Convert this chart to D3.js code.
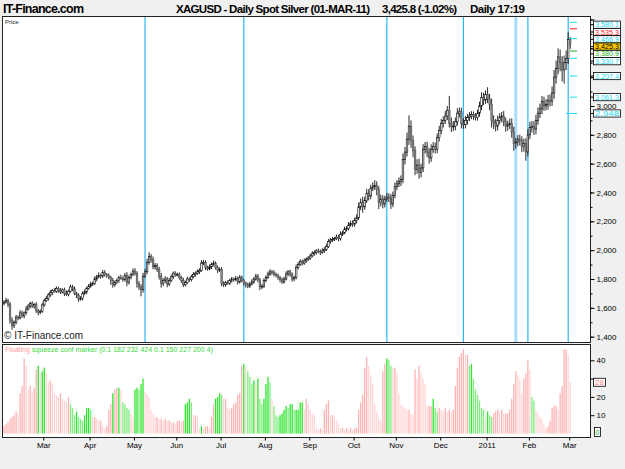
<!DOCTYPE html>
<html>
<head>
<meta charset="utf-8">
<script src="https://cdn.jsdelivr.net/npm/d3@7"></script>
<style>
  body { margin: 0; background: #f0f0f0; }
  svg { display: block; font-family: "Liberation Sans", Arial, sans-serif; }
</style>
</head>
<body>
<div id="chart"></div>
<script>
// Daily closes of spot silver (US cents), one array per month
var closeFeb10 = [1640,1652,1625,1515,1478,1498,1535,1530,1565,1545,1565,1592,1612,1630,1612,1622,1580,1568,1575,1620];
var closeMar10 = [1650,1665,1690,1705,1720,1715,1735,1720,1710,1725,1700,1695,1715,1745,1730,1700,1688,1660,1665,1700,1710,1735,1750];
var closeApr10 = [1765,1770,1800,1815,1825,1820,1845,1830,1825,1810,1790,1760,1775,1790,1810,1805,1795,1825,1775,1810,1830,1855];
var closeMay10 = [1840,1770,1745,1725,1820,1850,1915,1955,1935,1885,1895,1865,1820,1770,1790,1800,1765,1790,1815,1840,1830];
var closeJun10 = [1830,1810,1790,1760,1775,1800,1795,1815,1830,1840,1850,1860,1910,1915,1880,1870,1885,1900,1910,1880,1860,1865];
var closeJul10 = [1770,1760,1775,1770,1790,1800,1795,1805,1780,1810,1790,1770,1760,1750,1765,1780,1800,1820,1795,1745,1750,1790];
var closeAug10 = [1810,1835,1850,1845,1830,1825,1810,1795,1780,1800,1835,1850,1830,1800,1810,1880,1900,1920,1910,1925,1935,1945];
var closeSep10 = [1960,1975,1985,1995,1990,1985,1995,2005,2025,2060,2070,2075,2080,2090,2080,2110,2120,2145,2150,2175,2185,2180];
var closeOct10 = [2205,2225,2300,2330,2300,2345,2395,2375,2430,2440,2450,2420,2330,2355,2320,2355,2370,2360,2320,2380,2440];
var closeNov10 = [2460,2475,2490,2630,2680,2770,2860,2760,2690,2560,2590,2540,2570,2700,2720,2680,2640,2700,2720,2700,2780,2830];
var closeDec10 = [2880,2900,2930,2970,2880,2860,2860,2890,2950,2960,2880,2870,2900,2920,2930,2940,2930,2920,2950,3000,3060,3040,3080];
var closeJan11 = [3050,3010,2900,2880,2860,2900,2920,2930,2890,2860,2870,2880,2820,2740,2750,2770,2760,2720,2740,2680,2800];
var closeFeb11 = [2850,2860,2840,2900,2950,2980,3030,3000,3010,3040,3030,3090,3200,3260,3340,3300,3250,3300,3330,3461];
var closeMar11 = [3425.8];
var firstOpen = 1632;

// upper / lower shadow length of each day's candle (cents)
var wickHi = [12,18,10,15,20,14,16,12,18,15,10,20,14,12,16,10,18,12,14,16,
  14,18,12,20,10,16,14,12,18,10,15,20,12,16,14,18,10,12,16,14,18,12,15,
  16,12,18,14,20,12,18,16,10,14,12,18,16,14,12,20,14,18,22,16,14,18,
  20,14,16,18,22,20,25,30,18,20,16,14,18,22,16,20,14,18,16,12,14,
  14,16,12,18,14,16,12,14,18,12,16,14,20,18,14,12,16,14,18,12,14,16,
  18,14,12,16,12,14,10,16,12,18,14,10,12,16,14,18,12,16,14,12,16,14,
  14,16,18,12,16,14,12,10,14,16,18,12,14,16,12,20,18,16,14,18,16,14,
  16,18,14,12,16,14,18,16,20,18,14,16,12,18,16,20,14,18,16,20,18,22,
  20,24,30,28,40,26,30,28,24,30,35,28,24,30,26,22,28,24,30,26,30,
  26,30,28,40,35,45,75,40,35,30,40,45,30,35,30,32,28,34,30,26,30,32,
  30,28,34,30,100,40,36,30,34,30,28,34,30,26,28,24,22,20,24,30,35,32,28,
  50,34,40,36,30,34,30,28,36,30,28,32,34,36,30,28,32,30,34,36,40,
  40,36,34,38,40,36,40,34,38,36,40,45,50,55,60,50,45,50,55,50,
  18];
var wickLo = [15,10,20,25,30,18,12,15,10,14,18,12,10,16,12,18,14,20,12,10,
  12,10,16,14,18,10,12,15,14,10,18,12,16,10,14,12,20,18,10,14,12,16,10,
  10,14,12,16,10,18,12,14,16,12,30,20,14,12,16,10,14,12,25,14,12,10,
  16,30,20,45,20,14,18,16,22,18,20,16,24,30,20,18,22,14,12,16,14,
  12,14,18,16,12,10,14,12,10,14,12,16,10,14,18,12,10,16,12,14,18,12,
  20,16,14,10,12,16,14,10,18,12,14,16,20,14,12,10,14,12,18,22,14,12,
  12,10,14,16,12,14,16,18,14,12,10,16,14,18,16,12,14,10,16,12,14,10,
  12,10,14,16,12,18,10,14,12,10,16,14,12,10,18,14,12,10,16,14,12,18,
  18,20,16,22,40,20,18,30,22,20,24,40,45,26,30,24,20,26,35,22,20,
  24,22,30,26,35,30,40,50,45,40,30,45,35,28,30,34,40,28,24,30,28,26,
  26,30,24,28,30,40,34,28,26,30,36,28,26,30,24,22,26,20,22,24,30,34,26,
  30,40,50,40,36,30,28,34,30,38,32,30,40,50,36,30,34,40,36,60,30,
  30,34,40,36,30,34,38,34,30,36,34,30,40,45,40,60,80,95,50,40,
  30];

// squeeze indicator, one value per day, and its state (p = off / pink, g = on / green)
var squeeze = [4,5,6,8,9,10,12,11,22,26, 41,37,24,26,23,25,35,37,33,34,
  36,33,28,29,27,22,21,20,22,19, 18,17,20,16,14,10,12,9,8,7,
  10,14,14,13,9,9,8,7,7,4, 3,4,13,16,22,24,25,25,24,17,
  16,14,13,11,9,24,25,24,27,30, 23,22,20,13,11,9,9,8,8,7,
  8,7,7,6,6,5,7,7,6,7, 16,17,19,17,10,10,9,3,4,3,
  4,4,3,9,16,19,20,22,21,19, 19,14,13,14,16,17,21,22,37,38,
  36,34,31,27,29,27,30,19,16,19, 27,31,28,19,15,10,9,10,11,13,
  15,14,16,16,13,13,13,17,17,13, 19,16,13,11,10,3,2,3,2,13,
  16,18,10,10,9,7,5,3,3,2, 3,2,3,2,3,3,13,17,21,36,
  42,37,32,27,16,12,9,7,34,38, 41,40,37,36,36,33,22,16,15,14,
  13,13,11,10,35,30,37,33,30,27, 15,15,15,19,14,12,14,13,12,14,
  12,13,12,13,26,36,42,44,46,43, 43,37,38,30,24,21,18,14,13,9,
  12,10,9,11,12,13,12,13,11,11, 11,13,19,27,34,32,30,22,30,33,
  40,35,20,18,13,11,9,8,5,3, 4,7,14,15,15,13,22,26,46,46,
  43,28];
var squeezeState = ("pppppppppp" + "pppppppgpg" + "gppppppppp" + "pppggggggg" + "ggggpppppp" +
  "ppppgppgpg" + "gggppggggg" + "pppppppppp" + "pppppppppp" + "ggggppppgp" +
  "pppppggggp" + "pppppppppg" + "pggggpgggg" + "gggpgggggg" + "gggggggggp" +
  "pppppppppp" + "pppppppppp" + "pppppppppp" + "pppppppppp" + "gggppppppp" +
  "pppppppppp" + "pppgggpppp" + "pppppppppp" + "pggggggggp" + "gggppppppp" +
  "pppppppppp" + "ppggpppppp" + "pppppppppp" + "pp").split("");

// days (index) carrying a vertical marker line
var markerDays = [70, 119, 190, 228, 254, 260, 280];

// price levels shown in boxes on the right axis
var levelValues = [3580.1, 3535.3, 3466.9, 3425.3, 3380.9, 3330.7, 3207.4, 3061.3, 2948.0];
var levelLabels = ["3,580.1", "3,535.3", "3,466.9", "3,425.3", "3,380.9", "3,330.7", "3,207.4", "3,061.3", "2,948"];
var levelColors = ["#19d8f0", "#ff2020", "#19d8f0", "#000000", "#20b020", "#19d8f0", "#19d8f0", "#19d8f0", "#19d8f0"];
var priceTicks = [1400, 1600, 1800, 2000, 2200, 2400, 2600, 2800, 3000, 3200, 3400, 3600];
var priceLabelMax = 3000; // labels above this sit under the level boxes
var squeezeTicks = [10, 20, 30, 40];
var squeezeLabelled = [10, 20, 40];

var closes = [].concat(closeFeb10, closeMar10, closeApr10, closeMay10, closeJun10, closeJul10,
  closeAug10, closeSep10, closeOct10, closeNov10, closeDec10, closeJan11, closeFeb11, closeMar11);

// trading days: weekdays 1 Feb 2010 .. 1 Mar 2011
var days = d3.timeDay.range(new Date(2010, 1, 1), new Date(2011, 2, 2)).filter(d => d.getDay() % 6 !== 0);

if (closes.length !== days.length || wickHi.length !== days.length || wickLo.length !== days.length ||
    squeeze.length !== days.length || squeezeState.length !== days.length) {
  throw new Error("length mismatch " + [days.length, closes.length, wickHi.length, wickLo.length, squeeze.length, squeezeState.length]);
}

var bars = closes.map(function(c, i) {
  var o = i === 0 ? firstOpen : closes[i - 1];
  return { i: i, open: o, close: c, high: Math.max(o, c) + wickHi[i], low: Math.min(o, c) - wickLo[i] };
});

var W = 625, H = 469;
var panelL = 2.5, panelR = 590.5;
var mainTop = 16.5, mainBot = 342.5, lowTop = 344.5, lowBot = 437.5;
var axisFont = "Liberation Sans, Arial, sans-serif";

var xScale = d3.scaleLinear().domain([0, days.length - 1]).range([4, 570.2]);
var yScale = d3.scaleLinear().domain([1363, 3617]).range([342, 17]);
var y2Scale = d3.scaleLinear().domain([-1.9, 48.9]).range([437, 344]);

var svg = d3.select("#chart").append("svg")
    .attr("width", W)
    .attr("height", H)
    .attr("viewBox", [0, 0, W, H]);

svg.append("rect").attr("width", W).attr("height", H).attr("fill", "#f0f0f0");

// header
svg.append("text").attr("x", 3).attr("y", 13).attr("font-size", 12.5).attr("font-weight", "bold")
    .attr("textLength", 81).text("IT-Finance.com");
svg.append("text").attr("x", 176).attr("y", 13).attr("font-size", 11.5).attr("font-weight", "bold")
    .attr("textLength", 194).text("XAGUSD - Daily Spot Silver (01-MAR-11)");
svg.append("text").attr("x", 382).attr("y", 13).attr("font-size", 11.5).attr("font-weight", "bold")
    .attr("textLength", 75).text("3,425.8 (-1.02%)");
svg.append("text").attr("x", 470).attr("y", 13).attr("font-size", 11.5).attr("font-weight", "bold")
    .attr("textLength", 55).text("Daily  17:19");

// panels
svg.append("rect").attr("x", panelL).attr("y", mainTop).attr("width", panelR - panelL).attr("height", mainBot - mainTop)
    .attr("fill", "#fff").attr("stroke", "#222");
svg.append("rect").attr("x", panelL).attr("y", lowTop).attr("width", panelR - panelL).attr("height", lowBot - lowTop)
    .attr("fill", "#fff").attr("stroke", "#222");

var defs = svg.append("defs");
defs.append("clipPath").attr("id", "clipMain").append("rect")
    .attr("x", panelL + 0.5).attr("y", mainTop + 0.5).attr("width", panelR - panelL - 1).attr("height", mainBot - mainTop - 1);

// marker lines
svg.append("g").selectAll("line").data(markerDays).enter().append("line")
    .attr("x1", d => xScale(d)).attr("x2", d => xScale(d))
    .attr("y1", mainTop + 0.5).attr("y2", mainBot - 0.5)
    .attr("stroke", (d, k) => k === 4 ? "#a8dcff" : "#2bb5f5")
    .attr("stroke-width", (d, k) => k === 4 ? 3 : 1.2);

svg.append("text").attr("x", 5).attr("y", 24).attr("font-size", 6).attr("fill", "#222").text("Price");
svg.append("text").attr("x", 4).attr("y", 339).attr("font-size", 10).attr("fill", "#222").text("\u00a9 IT-Finance.com");

// candles
var cg = svg.append("g").attr("clip-path", "url(#clipMain)");
cg.selectAll("line.wick").data(bars).enter().append("line")
    .attr("class", "wick")
    .attr("x1", d => xScale(d.i)).attr("x2", d => xScale(d.i))
    .attr("y1", d => yScale(d.high)).attr("y2", d => yScale(d.low))
    .attr("stroke", "#111").attr("stroke-width", 0.9);
cg.selectAll("rect.body").data(bars).enter().append("rect")
    .attr("class", "body")
    .attr("x", d => xScale(d.i) - 0.8)
    .attr("width", 1.6)
    .attr("y", d => yScale(Math.max(d.open, d.close)))
    .attr("height", d => Math.max(0.8, Math.abs(yScale(d.open) - yScale(d.close))))
    .attr("fill", d => d.close >= d.open ? "#fff" : "#8c8c8c")
    .attr("stroke", d => d.close >= d.open ? "#000" : "#555")
    .attr("stroke-width", 0.6);

// level dashes near the last candle
svg.append("g").selectAll("line").data(levelValues).enter().append("line")
    .attr("x1", (d, k) => k === 8 ? 566 : 570).attr("x2", 577)
    .attr("y1", d => yScale(d)).attr("y2", d => yScale(d))
    .attr("stroke", (d, k) => levelColors[k])
    .attr("stroke-width", 1)
    .attr("display", (d, k) => k === 3 ? "none" : null);

// right price axis
var yAxisMinor = d3.axisRight(yScale).tickValues(d3.range(1400, 3700, 100)).tickSize(2).tickFormat("");
svg.append("g").attr("transform", `translate(${panelR},0)`).call(yAxisMinor)
    .call(g => g.select(".domain").remove());
var yAxis = d3.axisRight(yScale).tickValues(priceTicks).tickSize(4).tickPadding(2)
    .tickFormat(d => d <= priceLabelMax ? d3.format(",")(d) : "");
svg.append("g").attr("transform", `translate(${panelR},0)`).call(yAxis)
    .call(g => g.select(".domain").remove())
    .call(g => g.selectAll("text").attr("font-size", 8).attr("font-family", axisFont));

// level boxes, pushed apart when they overlap
var boxY = [];
levelValues.forEach(function(v, k) {
  var yy = Math.max(yScale(v), 24.7);
  if (k > 0) yy = Math.max(yy, boxY[k - 1] + 7.3);
  boxY.push(yy);
});
var lb = svg.append("g").selectAll("g").data(levelValues).enter().append("g")
    .attr("transform", (d, k) => `translate(0,${boxY[k]})`);
lb.append("line").attr("x1", panelR).attr("x2", 594).attr("stroke", "#000");
lb.append("rect").attr("x", 593.5).attr("y", -3.6).attr("width", 27).attr("height", 7.2)
    .attr("fill", (d, k) => k === 3 ? "#ffcc00" : "#fff").attr("stroke", "#000").attr("stroke-width", 0.8);
lb.append("text").attr("x", 607).attr("y", 2.5).attr("text-anchor", "middle").attr("font-size", 7)
    .attr("textLength", 24).attr("lengthAdjust", "spacingAndGlyphs")
    .attr("fill", (d, k) => levelColors[k]).text((d, k) => levelLabels[k]);

// squeeze histogram
svg.append("g").selectAll("rect").data(squeeze).enter().append("rect")
    .attr("x", (d, i) => xScale(i) - 0.65)
    .attr("width", 1.3)
    .attr("y", d => y2Scale(d))
    .attr("height", d => y2Scale(0) - y2Scale(d))
    .attr("fill", function(d, i) {
      var up = i === 0 || d >= squeeze[i - 1];
      if (squeezeState[i] === "g") return up ? "#2ee62e" : "#7fec7f";
      return up ? "#ffb3b3" : "#ffd6d6";
    });

svg.append("text").attr("x", 5).attr("y", 352).attr("font-size", 7)
    .call(t => t.append("tspan").attr("fill", "#ff9a9a").text("Floating "))
    .call(t => t.append("tspan").attr("fill", "#3ad83a").text("squeeze conf marker (0.1 182 232 424 0.1 150 227 200 4)"));

var y2Axis = d3.axisRight(y2Scale).tickValues(squeezeTicks).tickSize(4).tickPadding(2)
    .tickFormat(d => squeezeLabelled.indexOf(d) >= 0 ? d : "");
svg.append("g").attr("transform", `translate(${panelR},0)`).call(y2Axis)
    .call(g => g.select(".domain").remove())
    .call(g => g.selectAll("text").attr("font-size", 8).attr("font-family", axisFont));

// current value boxes of the indicator
var lastSq = squeeze[squeeze.length - 1];
svg.append("rect").attr("x", 593.5).attr("y", y2Scale(lastSq) - 4).attr("width", 12).attr("height", 8)
    .attr("fill", "#fff").attr("stroke", "#000").attr("stroke-width", 0.8);
svg.append("text").attr("x", 599.5).attr("y", y2Scale(lastSq) + 2.8).attr("text-anchor", "middle")
    .attr("font-size", 8).attr("fill", "#ff8080").text(lastSq);
svg.append("rect").attr("x", 594.5).attr("y", y2Scale(0) - 6).attr("width", 6).attr("height", 9)
    .attr("fill", "#fff").attr("stroke", "#000").attr("stroke-width", 0.8);
svg.append("text").attr("x", 597.5).attr("y", y2Scale(0) + 1.5).attr("text-anchor", "middle")
    .attr("font-size", 7).attr("fill", "#20b020").text("0");

// month axis
var monthStarts = days.map((d, i) => i).filter(i => i > 0 && days[i].getMonth() !== days[i - 1].getMonth());
var xAxis = d3.axisBottom(xScale).tickValues(monthStarts.map(i => i - 0.5)).tickSize(3).tickPadding(2)
    .tickFormat(i => {
      var d = days[Math.ceil(i)];
      return d.getMonth() === 0 ? d3.timeFormat("%Y")(d) : d3.timeFormat("%b")(d);
    });
svg.append("g").attr("transform", `translate(0,${lowBot})`).call(xAxis)
    .call(g => g.select(".domain").remove())
    .call(g => g.selectAll("text").attr("font-size", 8).attr("font-family", axisFont));
</script>
</body>
</html>
